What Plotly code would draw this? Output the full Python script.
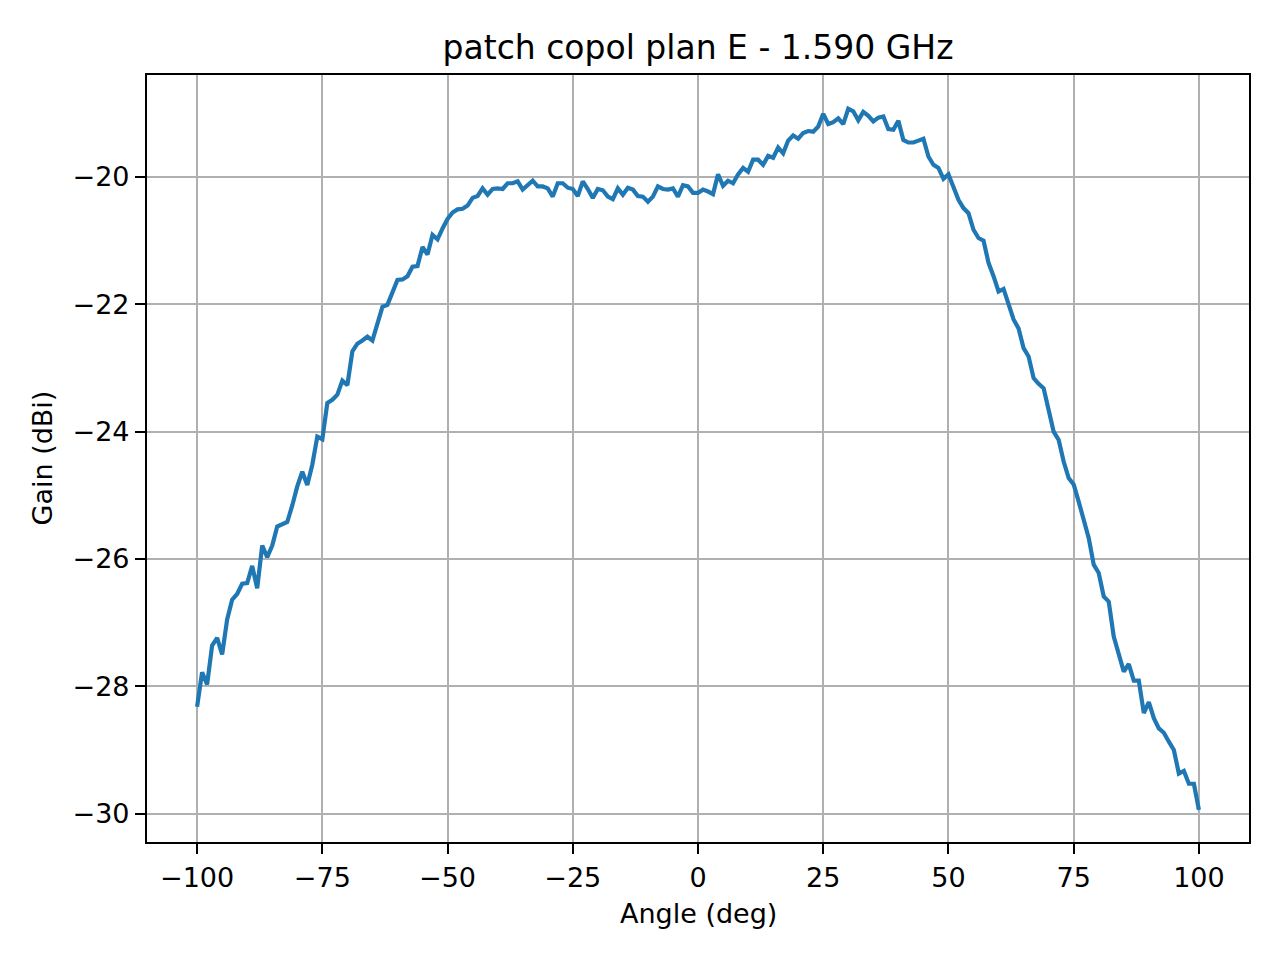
import plotly.graph_objects as go

# Angle steps of 1 deg, from -100 to 100
angles = list(range(-100, 101))

gain_dbi = [
    # -100 .. -75
    -28.32, -27.78, -27.97, -27.36, -27.24, -27.50, -26.95, -26.64, -26.55, -26.39,
    -26.38, -26.11, -26.46, -25.79, -25.97, -25.79, -25.49, -25.46, -25.42, -25.16,
    -24.86, -24.63, -24.84, -24.52, -24.08, -24.12,
    # -74 .. -45
    -23.55, -23.50, -23.42, -23.20, -23.27, -22.74, -22.62, -22.57, -22.51, -22.57,
    -22.32, -22.04, -22.01, -21.83, -21.62, -21.61, -21.56, -21.41, -21.40, -21.10,
    -21.22, -20.91, -20.98, -20.81, -20.66, -20.56, -20.51, -20.50, -20.45, -20.33,
    # -44 .. -1
    -20.30, -20.18, -20.28, -20.19, -20.18, -20.19, -20.10, -20.10, -20.07, -20.20,
    -20.14, -20.06, -20.15, -20.15, -20.18, -20.31, -20.10, -20.10, -20.17, -20.19,
    -20.30, -20.07, -20.19, -20.33, -20.19, -20.21, -20.31, -20.35, -20.18, -20.28,
    -20.17, -20.20, -20.30, -20.31, -20.39, -20.31, -20.15, -20.19, -20.20, -20.18,
    -20.31, -20.13, -20.15, -20.25,
    # 0 .. 50
    -20.25, -20.20, -20.23, -20.27, -19.96, -20.14, -20.06, -20.10, -19.96, -19.86,
    -19.92, -19.73, -19.73, -19.81, -19.67, -19.70, -19.54, -19.63, -19.43, -19.35,
    -19.40, -19.31, -19.28, -19.29, -19.21, -19.01, -19.17, -19.14, -19.08, -19.17,
    -18.93, -18.97, -19.11, -18.98, -19.04, -19.13, -19.07, -19.05, -19.25, -19.26,
    -19.12, -19.42, -19.46, -19.46, -19.43, -19.40, -19.68, -19.81, -19.86, -20.03,
    -19.96,
    # 51 .. 74
    -20.18, -20.36, -20.49, -20.57, -20.83, -20.96, -21.00, -21.35, -21.56, -21.80,
    -21.76, -21.98, -22.24, -22.38, -22.69, -22.82, -23.16, -23.25, -23.32, -23.66,
    -24.00, -24.13, -24.47, -24.73,
    # 75 .. 100
    -24.83, -25.10, -25.38, -25.67, -26.09, -26.22, -26.59, -26.67, -27.22, -27.50,
    -27.77, -27.65, -27.91, -27.91, -28.42, -28.25, -28.50, -28.66, -28.73, -28.87,
    -29.00, -29.37, -29.33, -29.53, -29.53, -29.94,
]

x_ticks = [-100, -75, -50, -25, 0, 25, 50, 75, 100]
y_ticks = [-30, -28, -26, -24, -22, -20]


def label(v):
    return str(v).replace("-", "\u2212")


fig = go.Figure()
fig.add_trace(go.Scatter(x=angles, y=gain_dbi, mode="lines",
                         line=dict(color="#1f77b4", width=4.2)))

axis_style = dict(
    showgrid=True, gridcolor="#b0b0b0", gridwidth=2.2,
    showline=True, linecolor="black", linewidth=2.2, mirror=True,
    ticks="outside", ticklen=10, tickwidth=2.2, tickcolor="black",
    zeroline=False, tickfont=dict(size=27, color="black"),
)

fig.update_xaxes(range=[-110, 110], tickvals=x_ticks,
                 ticktext=[label(v) for v in x_ticks], **axis_style)
fig.update_yaxes(range=[-30.445, -18.40], tickvals=y_ticks,
                 ticktext=[label(v) for v in y_ticks], **axis_style)

# page body has an 8px margin, so the figure is a bit smaller than the window
W, H = 1264, 944
fig.update_layout(
    width=W, height=H,
    margin=dict(l=139, r=23, t=67, b=110),
    paper_bgcolor="white", plot_bgcolor="white",
    font=dict(family="DejaVu Sans", color="black"),
    showlegend=False,
    title=dict(text="patch copol plan E - 1.590 GHz", x=0.5, xref="paper",
               y=1 - 39 / H, yref="container", yanchor="middle",
               xanchor="center", font=dict(size=33)),
    annotations=[
        dict(text="Angle (deg)", xref="paper", yref="paper", x=0.5,
             y=(842 - 913) / 767, xanchor="center", yanchor="middle",
             showarrow=False, font=dict(size=27)),
        dict(text="Gain (dBi)", xref="paper", yref="paper",
             x=(42 - 147) / 1102, y=0.5, xanchor="center", yanchor="middle",
             textangle=-90, showarrow=False, font=dict(size=27)),
    ],
)

fig.write_html("out.html")
